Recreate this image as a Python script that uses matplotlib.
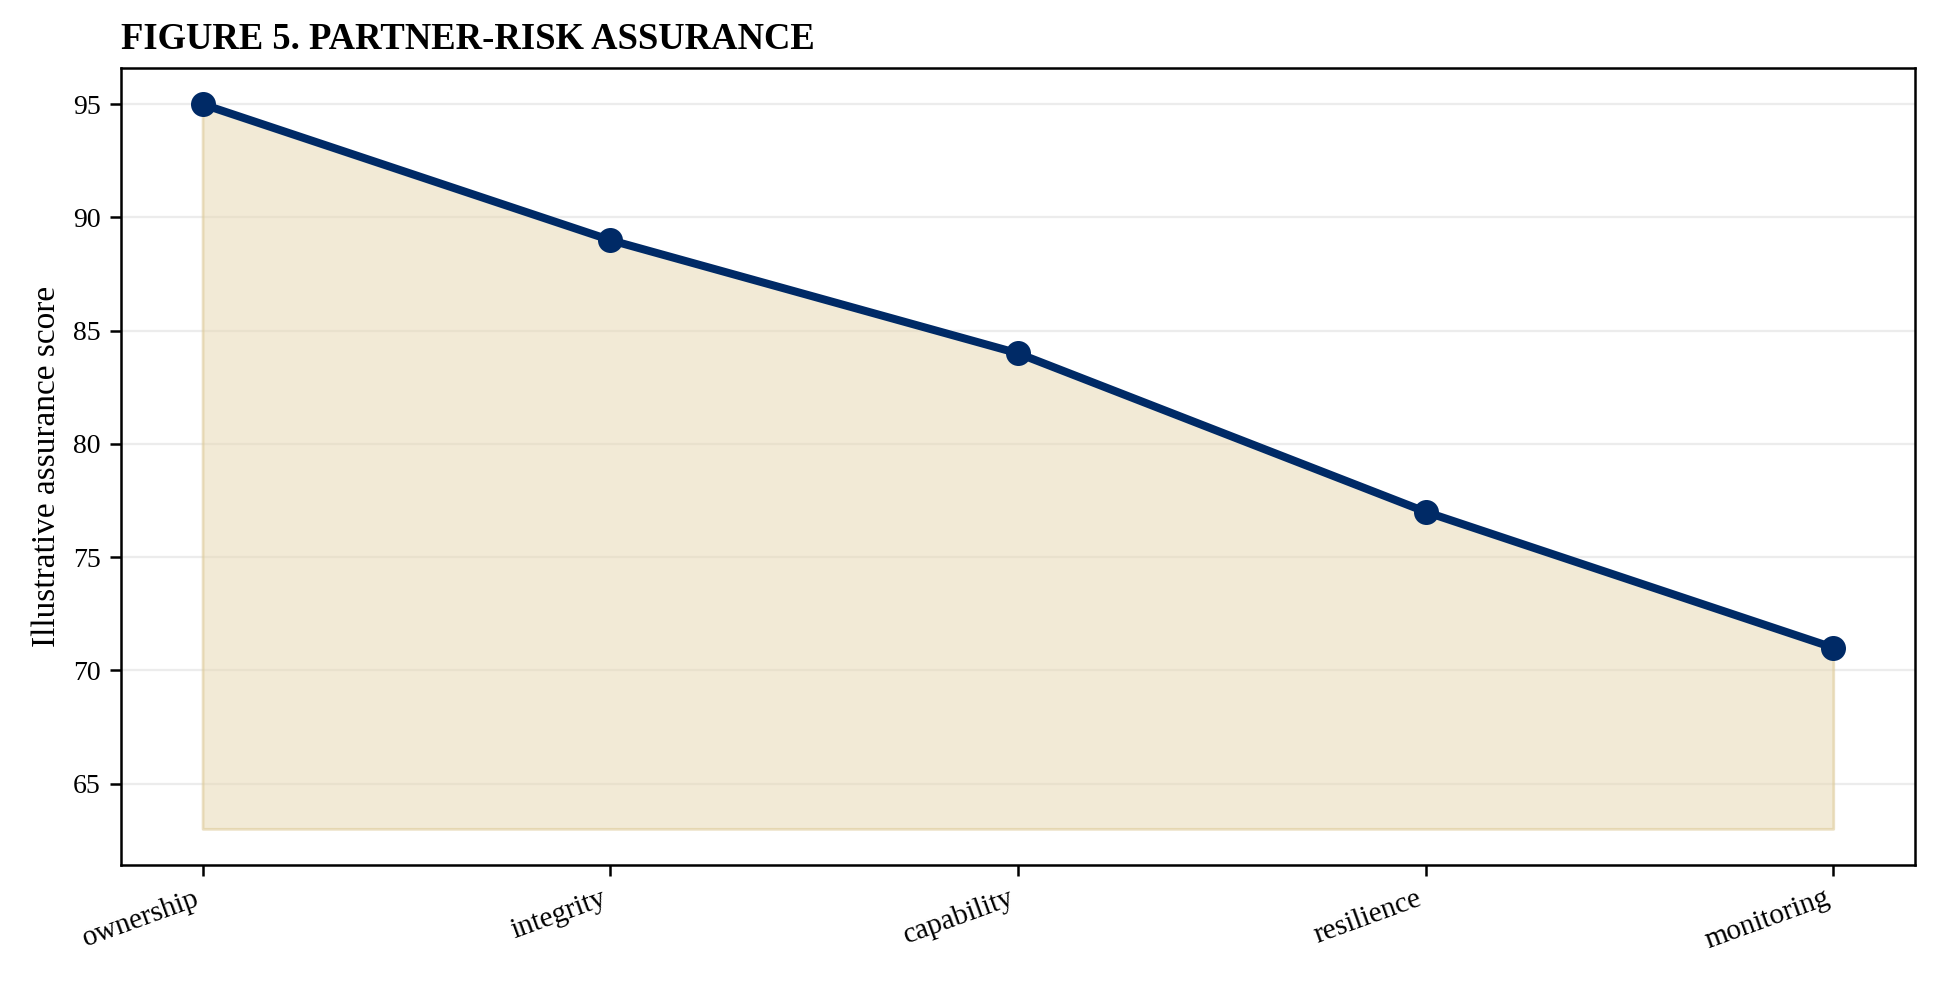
import matplotlib
matplotlib.use("Agg")
import matplotlib.pyplot as plt

categories = ["ownership", "integrity", "capability", "resilience", "monitoring"]
scores = [95, 89, 84, 77, 71]
baseline = 63
yticks = [65, 70, 75, 80, 85, 90, 95]

plt.rcParams['font.family'] = ['Liberation Serif', 'DejaVu Serif']

fig, ax = plt.subplots(figsize=(9.7, 4.915), dpi=200)
x = list(range(len(categories)))
ax.fill_between(x, scores, baseline, facecolor='#e8d9b5', alpha=0.55,
                edgecolor='#dcc894', linewidth=1.0, zorder=1)
ax.plot(x, scores, color='#002a66', linewidth=2.9, marker='o', markersize=8, zorder=3)

ax.set_xticks(x)
ax.set_xticklabels(categories, rotation=20, ha='right', fontsize=10.6)
ax.set_yticks(yticks)
ax.tick_params(axis='y', labelsize=10)
ax.tick_params(length=3.8, width=0.9)
ax.set_xlim(-0.2, 4.2)
ax.set_ylim(61.4, 96.6)
ax.grid(axis='y', color='#ececec', linewidth=0.8, zorder=0)
ax.set_axisbelow(True)
ax.set_ylabel("Illustrative assurance score", fontsize=12)
ax.set_title("FIGURE 5. PARTNER-RISK ASSURANCE", loc='left', fontsize=13.2,
             fontweight='bold', pad=7)
for s in ax.spines.values():
    s.set_linewidth(0.9)

fig.subplots_adjust(left=0.0624, right=0.987, top=0.9308, bottom=0.12)
fig.savefig("out.png", dpi=200)
